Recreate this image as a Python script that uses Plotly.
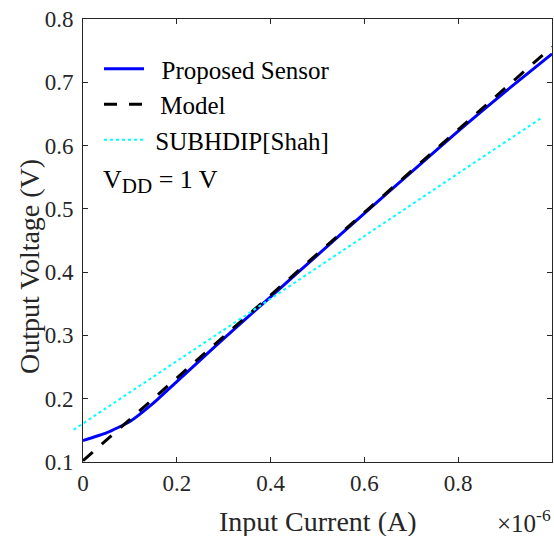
import plotly.graph_objects as go

# Input current (A) and measured / modelled output voltage (V)
current = [0, 0.05e-6, 0.1e-6, 0.15e-6, 0.2e-6, 0.25e-6, 0.3e-6, 0.4e-6,
           0.5e-6, 0.6e-6, 0.7e-6, 0.8e-6, 0.9e-6, 1.0e-6]
v_proposed = [0.134, 0.146, 0.164, 0.193, 0.227, 0.261, 0.295, 0.361,
              0.427, 0.493, 0.558, 0.623, 0.685, 0.745]

current_model = [0, 0.2e-6, 0.4e-6, 0.6e-6, 0.8e-6, 1.0e-6]
v_model = [0.102, 0.233, 0.364, 0.494, 0.625, 0.756]

current_shah = [-0.02e-6, 0.2e-6, 0.4e-6, 0.6e-6, 0.8e-6, 0.98e-6]
v_shah = [0.151, 0.259, 0.358, 0.457, 0.556, 0.645]

x_ticks = [0, 0.2e-6, 0.4e-6, 0.6e-6, 0.8e-6, 1.0e-6]
x_ticktext = ["0", "0.2", "0.4", "0.6", "0.8", "1"]
y_ticks = [0.1, 0.2, 0.3, 0.4, 0.5, 0.6, 0.7, 0.8]
y_ticktext = ["0.1", "0.2", "0.3", "0.4", "0.5", "0.6", "0.7", "0.8"]

W, H = 554, 536
ML, MR, MT, MB = 71, 2, 19, 74
PW, PH = W - ML - MR, H - MT - MB
EXTRA = 12  # px the SUBHDIP trace reaches left of the y axis
X0 = EXTRA / PW


def px(x):
    return (x - ML) / PW


def py(y):
    return (H - MB - y) / PH


FONT = "Liberation Serif"
AX = "#262626"
NB = "\u00a0"
TH = "\u2009"

fig = go.Figure()
fig.add_trace(go.Scatter(x=current, y=v_proposed, mode="lines",
                         name=NB + NB + "Proposed Sensor",
                         line=dict(color="#0000ff", width=3, shape="spline", smoothing=0.5),
                         xaxis="x", yaxis="y"))
fig.add_trace(go.Scatter(x=current_model, y=v_model, mode="lines",
                         name=NB + TH + "Model",
                         line=dict(color="black", width=3, dash="13px,12px"),
                         xaxis="x", yaxis="y"))
fig.add_trace(go.Scatter(x=current_shah, y=v_shah, mode="lines",
                         name=NB + "SUBHDIP[Shah]",
                         line=dict(color="#00ffff", width=2, dash="dot"),
                         xaxis="x2", yaxis="y2"))

axis_common = dict(showgrid=False, zeroline=False, ticks="inside", ticklen=5,
                   tickcolor=AX, linecolor=AX, linewidth=1, showline=True,
                   mirror="ticks", tickfont=dict(family=FONT, size=23, color=AX))

span_per_px = 1.0e-6 / (PW - EXTRA)
fig.update_layout(
    width=W, height=H,
    margin=dict(l=ML, r=MR, t=MT, b=MB),
    font=dict(family=FONT, color=AX),
    paper_bgcolor="white", plot_bgcolor="rgba(0,0,0,0)",
    xaxis=dict(domain=[X0, 1], range=[0, 1.0e-6], tickvals=x_ticks,
               ticktext=x_ticktext, anchor="y", **axis_common),
    yaxis=dict(domain=[0, 1], range=[0.1, 0.8], tickvals=y_ticks,
               ticktext=y_ticktext, anchor="x", ticklabelstandoff=4, **axis_common),
    xaxis2=dict(domain=[0, 1], range=[-EXTRA * span_per_px, 1.0e-6], visible=False,
                anchor="y2"),
    yaxis2=dict(domain=[0, 1], range=[0.1, 0.8], visible=False, anchor="x2"),
    showlegend=True,
    legend=dict(x=px(99), y=py(46), xanchor="left", yanchor="top",
                bgcolor="rgba(0,0,0,0)", font=dict(family=FONT, size=25, color="black"),
                tracegroupgap=0, itemwidth=40),
    annotations=[
        dict(text="Input Current (A)", x=px(318), y=py(521), xref="paper", yref="paper",
             showarrow=False, font=dict(family=FONT, size=28, color=AX),
             xanchor="center", yanchor="middle"),
        dict(text="Output Voltage (V)", x=px(29), y=py(267), xref="paper", yref="paper",
             showarrow=False, textangle=-90, font=dict(family=FONT, size=28, color=AX),
             xanchor="center", yanchor="middle"),
        dict(text="×10<sup>-6</sup>", x=px(553), y=py(521), xref="paper", yref="paper",
             showarrow=False, font=dict(family=FONT, size=25, color=AX),
             xanchor="right", yanchor="middle"),
        dict(text="V<sub><span style='font-size:21px'>DD</span></sub> = 1 V",
             x=px(101), y=py(182), xref="paper", yref="paper",
             showarrow=False, font=dict(family=FONT, size=26, color="black"),
             xanchor="left", yanchor="middle"),
    ],
)

fig.write_html("out.html")
